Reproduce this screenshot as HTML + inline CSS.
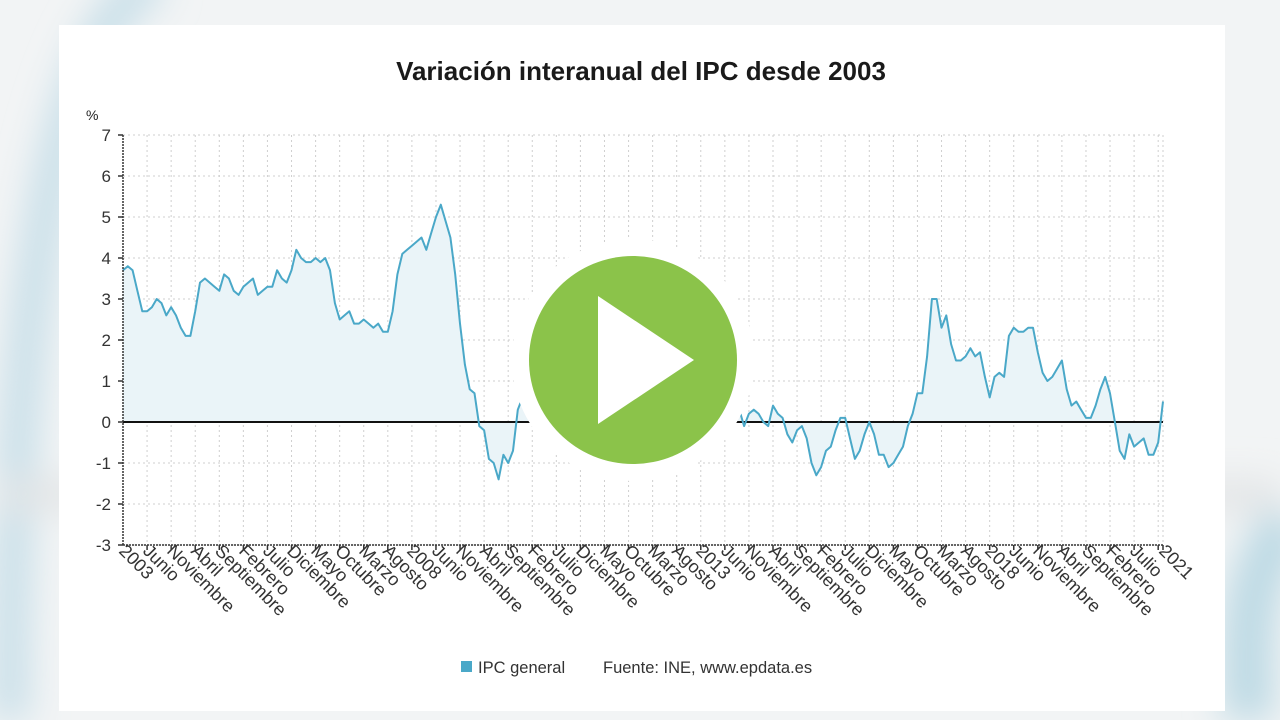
<!DOCTYPE html>
<html><head><meta charset="utf-8">
<style>
html,body{margin:0;padding:0;width:1280px;height:720px;overflow:hidden;background:#f3f5f6;}
svg{position:absolute;left:0;top:0;font-family:"Liberation Sans","DejaVu Sans",sans-serif;}
</style></head><body>
<svg width="1280" height="720" viewBox="0 0 1280 720">
<defs>
<filter id="bl"><feGaussianBlur stdDeviation="18"/></filter>
</defs>
<rect width="1280" height="720" fill="#f2f4f5"/>
<g filter="url(#bl)">
<path d="M10,720 C10,300 60,10 160,-20" stroke="#c6dee8" stroke-width="36" fill="none"/>
<path d="M1250,720 C1240,600 1260,560 1290,520" stroke="#bcd9e4" stroke-width="50" fill="none"/>
<rect x="0" y="480" width="1280" height="30" fill="#e2e4e5"/>
</g>
<rect x="59" y="25" width="1166" height="686" fill="#ffffff"/>
<text x="641" y="80" text-anchor="middle" font-size="26" font-weight="bold" fill="#1a1a1a">Variación interanual del IPC desde 2003</text>
<text x="86" y="120" font-size="14" fill="#222">%</text>
<g id="grid" stroke="#cfcfcf" stroke-width="1" stroke-dasharray="2,3"></g>
<path id="area" fill="#eaf4f8" stroke="none"/>
<line x1="123" y1="422" x2="1163" y2="422" stroke="#111" stroke-width="2"/>
<path id="line" fill="none" stroke="#4aa8c8" stroke-width="2" stroke-linejoin="round"/>
<line x1="123" y1="135" x2="123" y2="545" stroke="#333" stroke-width="1.5" stroke-dasharray="2,1"/>
<line x1="123" y1="545" x2="1163" y2="545" stroke="#333" stroke-width="1.5" stroke-dasharray="2,1"/>
<g id="ticks" stroke="#333" stroke-width="1.5"></g>
<g font-size="17" fill="#333" text-anchor="end">
<text x="111" y="141">7</text><text x="111" y="182">6</text><text x="111" y="223">5</text><text x="111" y="264">4</text><text x="111" y="305">3</text><text x="111" y="346">2</text><text x="111" y="387">1</text><text x="111" y="428">0</text><text x="111" y="469">-1</text><text x="111" y="510">-2</text><text x="111" y="551">-3</text>
</g>
<g font-size="18" fill="#333">
<text transform="translate(118,552) rotate(45)">2003</text>
<text transform="translate(142,552) rotate(45)">Junio</text>
<text transform="translate(166,552) rotate(45)">Noviembre</text>
<text transform="translate(190,552) rotate(45)">Abril</text>
<text transform="translate(214,552) rotate(45)">Septiembre</text>
<text transform="translate(238,552) rotate(45)">Febrero</text>
<text transform="translate(262,552) rotate(45)">Julio</text>
<text transform="translate(286,552) rotate(45)">Diciembre</text>
<text transform="translate(310,552) rotate(45)">Mayo</text>
<text transform="translate(334,552) rotate(45)">Octubre</text>
<text transform="translate(358,552) rotate(45)">Marzo</text>
<text transform="translate(382,552) rotate(45)">Agosto</text>
<text transform="translate(406,552) rotate(45)">2008</text>
<text transform="translate(431,552) rotate(45)">Junio</text>
<text transform="translate(455,552) rotate(45)">Noviembre</text>
<text transform="translate(479,552) rotate(45)">Abril</text>
<text transform="translate(503,552) rotate(45)">Septiembre</text>
<text transform="translate(527,552) rotate(45)">Febrero</text>
<text transform="translate(551,552) rotate(45)">Julio</text>
<text transform="translate(575,552) rotate(45)">Diciembre</text>
<text transform="translate(599,552) rotate(45)">Mayo</text>
<text transform="translate(623,552) rotate(45)">Octubre</text>
<text transform="translate(647,552) rotate(45)">Marzo</text>
<text transform="translate(671,552) rotate(45)">Agosto</text>
<text transform="translate(695,552) rotate(45)">2013</text>
<text transform="translate(720,552) rotate(45)">Junio</text>
<text transform="translate(744,552) rotate(45)">Noviembre</text>
<text transform="translate(768,552) rotate(45)">Abril</text>
<text transform="translate(792,552) rotate(45)">Septiembre</text>
<text transform="translate(816,552) rotate(45)">Febrero</text>
<text transform="translate(840,552) rotate(45)">Julio</text>
<text transform="translate(864,552) rotate(45)">Diciembre</text>
<text transform="translate(888,552) rotate(45)">Mayo</text>
<text transform="translate(912,552) rotate(45)">Octubre</text>
<text transform="translate(936,552) rotate(45)">Marzo</text>
<text transform="translate(960,552) rotate(45)">Agosto</text>
<text transform="translate(984,552) rotate(45)">2018</text>
<text transform="translate(1008,552) rotate(45)">Junio</text>
<text transform="translate(1032,552) rotate(45)">Noviembre</text>
<text transform="translate(1056,552) rotate(45)">Abril</text>
<text transform="translate(1081,552) rotate(45)">Septiembre</text>
<text transform="translate(1105,552) rotate(45)">Febrero</text>
<text transform="translate(1129,552) rotate(45)">Julio</text>
<text transform="translate(1158,552) rotate(45)">2021</text>
</g>
<rect x="461" y="661" width="11" height="11" fill="#4aa8c8"/>
<text x="478" y="673" font-size="16.5" fill="#333">IPC general</text>
<text x="603" y="673" font-size="16.5" fill="#333">Fuente: INE, www.epdata.es</text>
<circle cx="633" cy="360" r="121" fill="#ffffff"/>
<circle cx="633" cy="360" r="104" fill="#8bc34a"/>
<polygon points="598,296 598,424 694,360" fill="#ffffff"/>
</svg>
<script>
var d=[3.7,3.8,3.7,3.2,2.7,2.7,2.8,3.0,2.9,2.6,2.8,2.6,
2.3,2.1,2.1,2.7,3.4,3.5,3.4,3.3,3.2,3.6,3.5,3.2,
3.1,3.3,3.4,3.5,3.1,3.2,3.3,3.3,3.7,3.5,3.4,3.7,
4.2,4.0,3.9,3.9,4.0,3.9,4.0,3.7,2.9,2.5,2.6,2.7,
2.4,2.4,2.5,2.4,2.3,2.4,2.2,2.2,2.7,3.6,4.1,4.2,
4.3,4.4,4.5,4.2,4.6,5.0,5.3,4.9,4.5,3.6,2.4,1.4,
0.8,0.7,-0.1,-0.2,-0.9,-1.0,-1.4,-0.8,-1.0,-0.7,0.3,0.6,
1.0,0.8,1.4,1.5,1.8,1.5,1.9,1.8,2.1,2.3,2.3,3.0,
3.3,3.6,3.6,3.8,3.5,3.2,3.1,3.0,3.1,3.0,2.9,2.4,
2.0,2.0,1.9,2.1,1.9,1.9,2.2,2.7,3.4,3.5,2.9,2.9,
2.7,2.8,2.4,1.4,1.7,2.1,1.8,1.5,0.3,-0.1,0.2,0.3,
0.2,0.0,-0.1,0.4,0.2,0.1,-0.3,-0.5,-0.2,-0.1,-0.4,-1.0,
-1.3,-1.1,-0.7,-0.6,-0.2,0.1,0.1,-0.4,-0.9,-0.7,-0.3,0.0,
-0.3,-0.8,-0.8,-1.1,-1.0,-0.8,-0.6,-0.1,0.2,0.7,0.7,1.6,
3.0,3.0,2.3,2.6,1.9,1.5,1.5,1.6,1.8,1.6,1.7,1.1,
0.6,1.1,1.2,1.1,2.1,2.3,2.2,2.2,2.3,2.3,1.7,1.2,
1.0,1.1,1.3,1.5,0.8,0.4,0.5,0.3,0.1,0.1,0.4,0.8,
1.1,0.7,0.0,-0.7,-0.9,-0.3,-0.6,-0.5,-0.4,-0.8,-0.8,-0.5,0.5];
var sx=1040/216;function X(i){return 123+sx*i}function Y(v){return 422-41*v}
var p="";for(var i=0;i<d.length;i++){p+=(i?"L":"M")+X(i).toFixed(1)+","+Y(d[i]).toFixed(1);}
document.getElementById("line").setAttribute("d",p);
document.getElementById("area").setAttribute("d",p+"L"+X(d.length-1)+",422L123,422Z");
var g=document.getElementById("grid"),t=document.getElementById("ticks"),ns="http://www.w3.org/2000/svg";
function ln(par,a,b,c,e){var l=document.createElementNS(ns,"line");l.setAttribute("x1",a);l.setAttribute("y1",b);l.setAttribute("x2",c);l.setAttribute("y2",e);par.appendChild(l);}
for(var v=-3;v<=7;v++){ln(g,123,Y(v),1163,Y(v));ln(t,118,Y(v),123,Y(v));}
for(var k=1;k<=43;k++){var x=X(k*5);ln(g,x,135,x,545);ln(t,x,545,x,550);}
ln(g,1163,135,1163,545);ln(t,1163,545,1163,550);
</script>
</body></html>
